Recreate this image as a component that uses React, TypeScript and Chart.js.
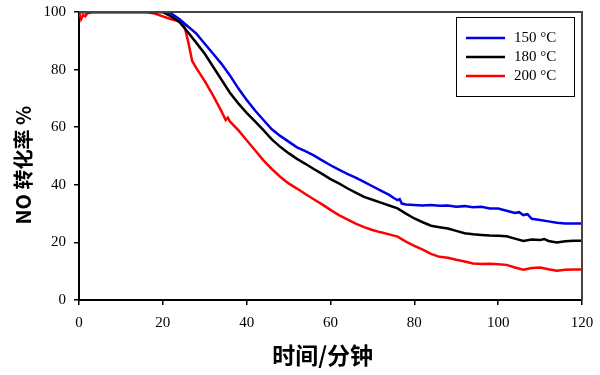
import React, { useEffect, useRef } from "react";
import { Chart, registerables } from "chart.js";

Chart.register(...registerables);

const seriesLabels = ["150 °C", "180 °C", "200 °C"];
const seriesColors = ["#0000e6", "#000000", "#ff0000"];

const t150 = [0, 2, 4, 8, 12, 16, 20, 22, 24, 26, 28, 30, 32, 34, 36, 38, 40, 42, 44, 46, 48, 50, 52, 54, 56, 58, 60, 62, 64, 66, 68, 70, 72, 74, 75, 76, 76.5, 77, 78, 80, 82, 84, 86, 88, 90, 92, 94, 96, 98, 100, 102, 104, 105, 106, 107, 108, 110, 112, 114, 116, 118, 120];
const v150 = [100, 100, 100, 100, 100, 100, 100, 99.5, 97.5, 95, 92.5, 89, 85.5, 82, 78, 73.5, 69.5, 65.8, 62.5, 59.3, 57, 55, 53, 51.7, 50.2, 48.5, 46.8, 45.3, 43.8, 42.5, 41, 39.5, 38, 36.5, 35.5, 34.7, 35, 33.5, 33.2, 33, 32.8, 33, 32.7, 32.8, 32.4, 32.6, 32.2, 32.4, 31.8, 31.8, 31, 30.2, 30.5, 29.5, 29.8, 28.2, 27.8, 27.3, 26.8, 26.6, 26.6, 26.6];

const t180 = [0, 4, 8, 12, 16, 20, 22, 24, 26, 28, 30, 32, 34, 36, 38, 40, 42, 44, 46, 48, 50, 52, 54, 56, 58, 60, 62, 64, 66, 68, 70, 72, 74, 76, 78, 80, 82, 84, 86, 88, 90, 92, 94, 96, 98, 100, 102, 104, 106, 108, 110, 111, 112, 114, 116, 118, 120];
const v180 = [100, 100, 100, 100, 100, 100, 98.5, 96.5, 93, 89.3, 85.5, 81, 76.5, 72, 68.3, 65, 62, 59, 55.8, 53.2, 51, 49, 47.3, 45.5, 43.8, 42, 40.5, 38.8, 37.3, 35.8, 34.8, 33.8, 32.8, 31.8, 30, 28.3, 27, 25.8, 25.3, 24.8, 24, 23.2, 22.8, 22.6, 22.4, 22.3, 22.1, 21.3, 20.5, 21, 20.8, 21.2, 20.5, 20, 20.4, 20.6, 20.6];

const t200 = [0, 0.5, 1, 1.5, 2, 3, 8, 12, 16, 18, 20, 22, 24, 25, 26, 27, 28, 30, 32, 34, 35, 35.5, 36, 38, 40, 42, 44, 46, 48, 50, 52, 54, 56, 58, 60, 62, 64, 66, 68, 70, 72, 74, 76, 78, 80, 82, 84, 86, 88, 90, 92, 94, 96, 98, 100, 102, 104, 106, 108, 110, 112, 114, 116, 118, 120];
const v200 = [100, 97.5, 99, 98.5, 99.6, 100, 100, 100, 100, 99.5, 98.5, 97.5, 96.8, 96, 90, 83, 80.5, 76, 71, 65.5, 62.5, 63.3, 62, 59, 55.5, 52, 48.5, 45.5, 42.8, 40.5, 38.7, 36.8, 35, 33.2, 31.3, 29.5, 28, 26.5, 25.3, 24.3, 23.5, 22.8, 22, 20.3, 18.8, 17.5, 16, 15, 14.7, 14, 13.4, 12.7, 12.5, 12.6, 12.4, 12.2, 11.3, 10.5, 11.1, 11.3, 10.7, 10.2, 10.5, 10.6, 10.6];

const xTitle = "时间/分钟   ";
const yTitle = "NO 转化率 %    ";

const toPts = (t: number[], v: number[]) => t.map((x, i) => ({ x, y: v[i] }));

const framePlugin = {
  id: "frameLegend",
  afterDraw(chart: any) {
    const { ctx, chartArea } = chart;
    ctx.save();
    ctx.strokeStyle = "#444444";
    ctx.lineWidth = 2;
    ctx.beginPath();
    ctx.moveTo(chartArea.left, chartArea.top);
    ctx.lineTo(chartArea.right, chartArea.top);
    ctx.lineTo(chartArea.right, chartArea.bottom);
    ctx.stroke();
    const bx = 456, by = 17, bw = 118, bh = 79;
    ctx.fillStyle = "#ffffff";
    ctx.fillRect(bx, by, bw, bh);
    ctx.strokeStyle = "#000000";
    ctx.lineWidth = 1;
    ctx.strokeRect(bx + 0.5, by + 0.5, bw, bh);
    ctx.font = "15px 'Liberation Serif'";
    ctx.textBaseline = "middle";
    chart.data.datasets.forEach((ds: any, i: number) => {
      const y = 38 + i * 19;
      ctx.strokeStyle = ds.borderColor;
      ctx.lineWidth = 2.5;
      ctx.beginPath();
      ctx.moveTo(466, y);
      ctx.lineTo(505, y);
      ctx.stroke();
      ctx.fillStyle = "#000000";
      ctx.fillText(ds.label, 514, y);
    });
    ctx.restore();
  },
};

export default function App() {
  const ref = useRef<HTMLCanvasElement>(null);
  useEffect(() => {
    if (!ref.current) return;
    const series = [toPts(t150, v150), toPts(t180, v180), toPts(t200, v200)];
    const chart = new Chart(ref.current, {
      type: "line",
      data: {
        datasets: series.map((d, i) => ({
          label: seriesLabels[i],
          data: d,
          borderColor: seriesColors[i],
          backgroundColor: seriesColors[i],
          borderWidth: 2.5,
          pointRadius: 0,
          tension: 0,
          fill: false,
        })),
      },
      options: {
        animation: false,
        responsive: false,
        maintainAspectRatio: false,
        layout: { padding: { top: 9, right: 18, left: 0, bottom: 0 } },
        plugins: { legend: { display: false }, tooltip: { enabled: false } },
        scales: {
          x: {
            type: "linear",
            min: 0,
            max: 120,
            ticks: { stepSize: 20, color: "#000", font: { family: "'Liberation Serif'", size: 15 }, padding: 9, maxRotation: 0 },
            grid: { drawOnChartArea: false, tickLength: 5, color: "#000", lineWidth: 1.5 },
            border: { color: "#000", width: 2 },
            title: { display: true, text: xTitle, color: "#000", font: { family: "'Noto Sans CJK SC'", size: 23, weight: "bold" }, padding: { top: 0, bottom: 6 } },
            afterFit: (s: any) => { s.height = 75; s.paddingRight = 0; s.paddingLeft = 0; },
          },
          y: {
            min: 0,
            max: 100,
            ticks: { stepSize: 20, color: "#000", font: { family: "'Liberation Serif'", size: 15, lineHeight: 0.54 }, padding: 8 },
            grid: { drawOnChartArea: false, tickLength: 5, color: "#000", lineWidth: 1.5 },
            border: { color: "#000", width: 2 },
            title: { display: true, text: yTitle, color: "#000", font: { family: "'Noto Sans CJK SC'", size: 20, weight: "bold" }, padding: { top: 11, bottom: 0 } },
            afterFit: (s: any) => { s.width = 79; },
          },
        },
      },
      plugins: [framePlugin],
    } as any);
    return () => chart.destroy();
  }, []);
  return (
    <div style={{ position: "fixed", left: 0, top: 0, width: 600, height: 375, background: "#fff" }}>
      <canvas ref={ref} width={600} height={375} style={{ display: "block" }} />
    </div>
  );
}
